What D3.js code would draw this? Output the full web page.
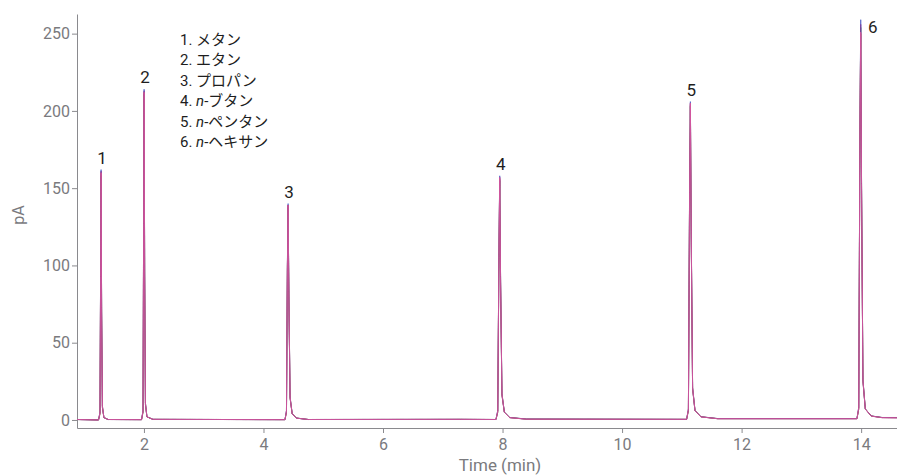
<!DOCTYPE html>
<html>
<head>
<meta charset="utf-8">
<script src="https://cdn.jsdelivr.net/npm/d3@7"></script>
<style>
  body { margin: 0; background: #fff; }
  svg text { font-family: Roboto, "Noto Sans CJK JP", sans-serif; }
  .axis path, .axis line { stroke: #8a8a8e; }
  .axis text { fill: #7a7a7e; font-size: 16px; }
</style>
</head>
<body>
<svg id="chart" width="897" height="476"></svg>
<script>
// retention times (min) shared by every run
var times = [0.88,
  1.24, 1.265, 1.275, 1.283, 1.292, 1.305, 1.33, 1.40,
  1.96, 1.985, 1.995, 2.003, 2.012, 2.025, 2.05, 2.15,
  4.36, 4.385, 4.40, 4.412, 4.425, 4.445, 4.48, 4.55, 4.75,
  7.30, 7.89, 7.92, 7.94, 7.953, 7.967, 7.99, 8.03, 8.12, 8.40,
  11.08, 11.11, 11.13, 11.143, 11.157, 11.18, 11.22, 11.32, 11.60,
  13.93, 13.96, 13.98, 13.993, 14.007, 14.03, 14.07, 14.17, 14.35, 14.60];

// overlaid runs (pA)
var runBlue = [0.3,
  0, 5, 95, 162, 70, 8, 1.5, 0.3,
  0.2, 6, 130, 214, 95, 10, 2, 0.4,
  0.2, 6, 100, 140, 80, 14, 4, 1.2, 0.3,
  0.4, 0.3, 6, 110, 158, 90, 16, 5, 1.5, 0.5,
  0.4, 7, 150, 206, 120, 20, 6, 2, 0.8,
  0.8, 8, 190, 259, 150, 25, 7, 2.5, 1.5, 1.4];
var runGreen = [0.3,
  0, 4, 90, 158, 72, 9, 1.6, 0.3,
  0.2, 5, 125, 211, 98, 11, 2.1, 0.4,
  0.2, 5, 96, 138, 82, 15, 4.2, 1.3, 0.3,
  0.4, 0.3, 5, 105, 155, 92, 17, 5.2, 1.6, 0.6,
  0.4, 6, 145, 203, 122, 21, 6.2, 2.1, 0.9,
  0.9, 7, 185, 254, 152, 26, 7.2, 2.6, 1.6, 1.6];
var runRed = [0.3,
  0, 4, 92, 160, 68, 8, 1.5, 0.3,
  0.2, 5, 128, 212, 93, 10, 2, 0.4,
  0.2, 5, 98, 139, 78, 14, 4, 1.2, 0.3,
  0.4, 0.3, 5, 108, 156, 88, 16, 5, 1.5, 0.5,
  0.4, 6, 148, 204, 118, 20, 6, 2, 0.8,
  0.8, 7, 188, 250, 148, 25, 7, 2.5, 1.5, 1.4];
var runPurple = [0.3,
  0, 5, 94, 161, 71, 9, 1.6, 0.3,
  0.2, 6, 129, 213, 96, 11, 2.1, 0.4,
  0.2, 6, 99, 139, 81, 15, 4.1, 1.2, 0.3,
  0.4, 0.3, 6, 109, 157, 91, 17, 5.1, 1.6, 0.6,
  0.4, 7, 149, 205, 121, 21, 6.1, 2.1, 0.9,
  0.9, 8, 189, 256, 151, 26, 7.1, 2.6, 1.6, 1.5];
var runPink = [0.3,
  0, 5, 93, 160, 73, 9, 1.6, 0.3,
  0.2, 6, 127, 212, 97, 11, 2, 0.4,
  0.2, 6, 97, 139, 83, 15, 4.1, 1.2, 0.3,
  0.4, 0.3, 6, 107, 157, 93, 17, 5.1, 1.5, 0.5,
  0.4, 7, 147, 205, 123, 21, 6.1, 2, 0.8,
  0.8, 8, 187, 251, 153, 26, 7.1, 2.5, 1.5, 1.4];

var runs = [runBlue, runGreen, runRed, runPurple, runPink];
var runColors = ["#4d5fc4", "#2f7d52", "#e5413c", "#7d3f9e", "#d8589f"];

// peak labels
var peakIds = ["1", "2", "3", "4", "5", "6"];
var peakTimes = [1.283, 2.003, 4.412, 7.953, 11.143, 13.993];
var peakHeights = [162, 214, 140, 158, 206, 259];

var legendLines = [
  ["1. ", "", "メタン"],
  ["2. ", "", "エタン"],
  ["3. ", "", "プロパン"],
  ["4. ", "n", "-ブタン"],
  ["5. ", "n", "-ペンタン"],
  ["6. ", "n", "-ヘキサン"]
];

var yTicks = [0, 50, 100, 150, 200, 250];
var xTicks = [2, 4, 6, 8, 10, 12, 14];

var svg = d3.select("#chart");
var mLeft = 77, mRight = 897, mTop = 14, mBottom = 428;

var x = d3.scaleLinear().domain([0.88, 14.6]).range([mLeft, mRight]);
var y = d3.scaleLinear().domain([-5.2, 262.7]).range([mBottom, mTop]);

svg.append("g")
  .attr("class", "axis")
  .attr("transform", "translate(0," + mBottom + ")")
  .call(d3.axisBottom(x).tickValues(xTicks).tickSize(5).tickPadding(3).tickSizeOuter(0))
  .selectAll("text").attr("dy", "0.85em");

svg.append("g")
  .attr("class", "axis")
  .attr("transform", "translate(" + mLeft + ",0)")
  .call(d3.axisLeft(y).tickValues(yTicks).tickSize(5).tickPadding(2).tickSizeOuter(0));

svg.append("text")
  .attr("x", 500).attr("y", 471)
  .attr("text-anchor", "middle")
  .attr("fill", "#7a7a7e")
  .style("font-size", "17px")
  .text("Time (min)");

svg.append("text")
  .attr("transform", "translate(24,215) rotate(-90)")
  .attr("text-anchor", "middle")
  .attr("fill", "#7a7a7e")
  .style("font-size", "16px")
  .text("pA");

var line = d3.line()
  .x(function(d, i) { return x(times[i]); })
  .y(function(d) { return y(d); });

svg.append("g").selectAll("path")
  .data(runs)
  .enter().append("path")
  .attr("d", line)
  .attr("fill", "none")
  .attr("stroke", function(d, i) { return runColors[i]; })
  .attr("stroke-width", 1)
  .attr("stroke-opacity", 0.8);

svg.append("g").selectAll("text")
  .data(peakIds)
  .enter().append("text")
  .attr("x", function(d, i) { return x(peakTimes[i]) + (i == 5 ? 12 : 1); })
  .attr("y", function(d, i) { return y(peakHeights[i]) - (i == 5 ? -13 : 6); })
  .attr("text-anchor", "middle")
  .attr("fill", "#1e1e1e")
  .style("font-size", "17px")
  .text(function(d) { return d; });

var legend = svg.append("g").attr("transform", "translate(180,45)");
legendLines.forEach(function(l, i) {
  var t = legend.append("text")
    .attr("y", i * 20.4)
    .attr("fill", "#1e1e1e")
    .style("font-size", "15px");
  t.append("tspan").text(l[0]);
  if (l[1]) t.append("tspan").style("font-style", "italic").text(l[1]);
  t.append("tspan").text(l[2]);
});
</script>
</body>
</html>
